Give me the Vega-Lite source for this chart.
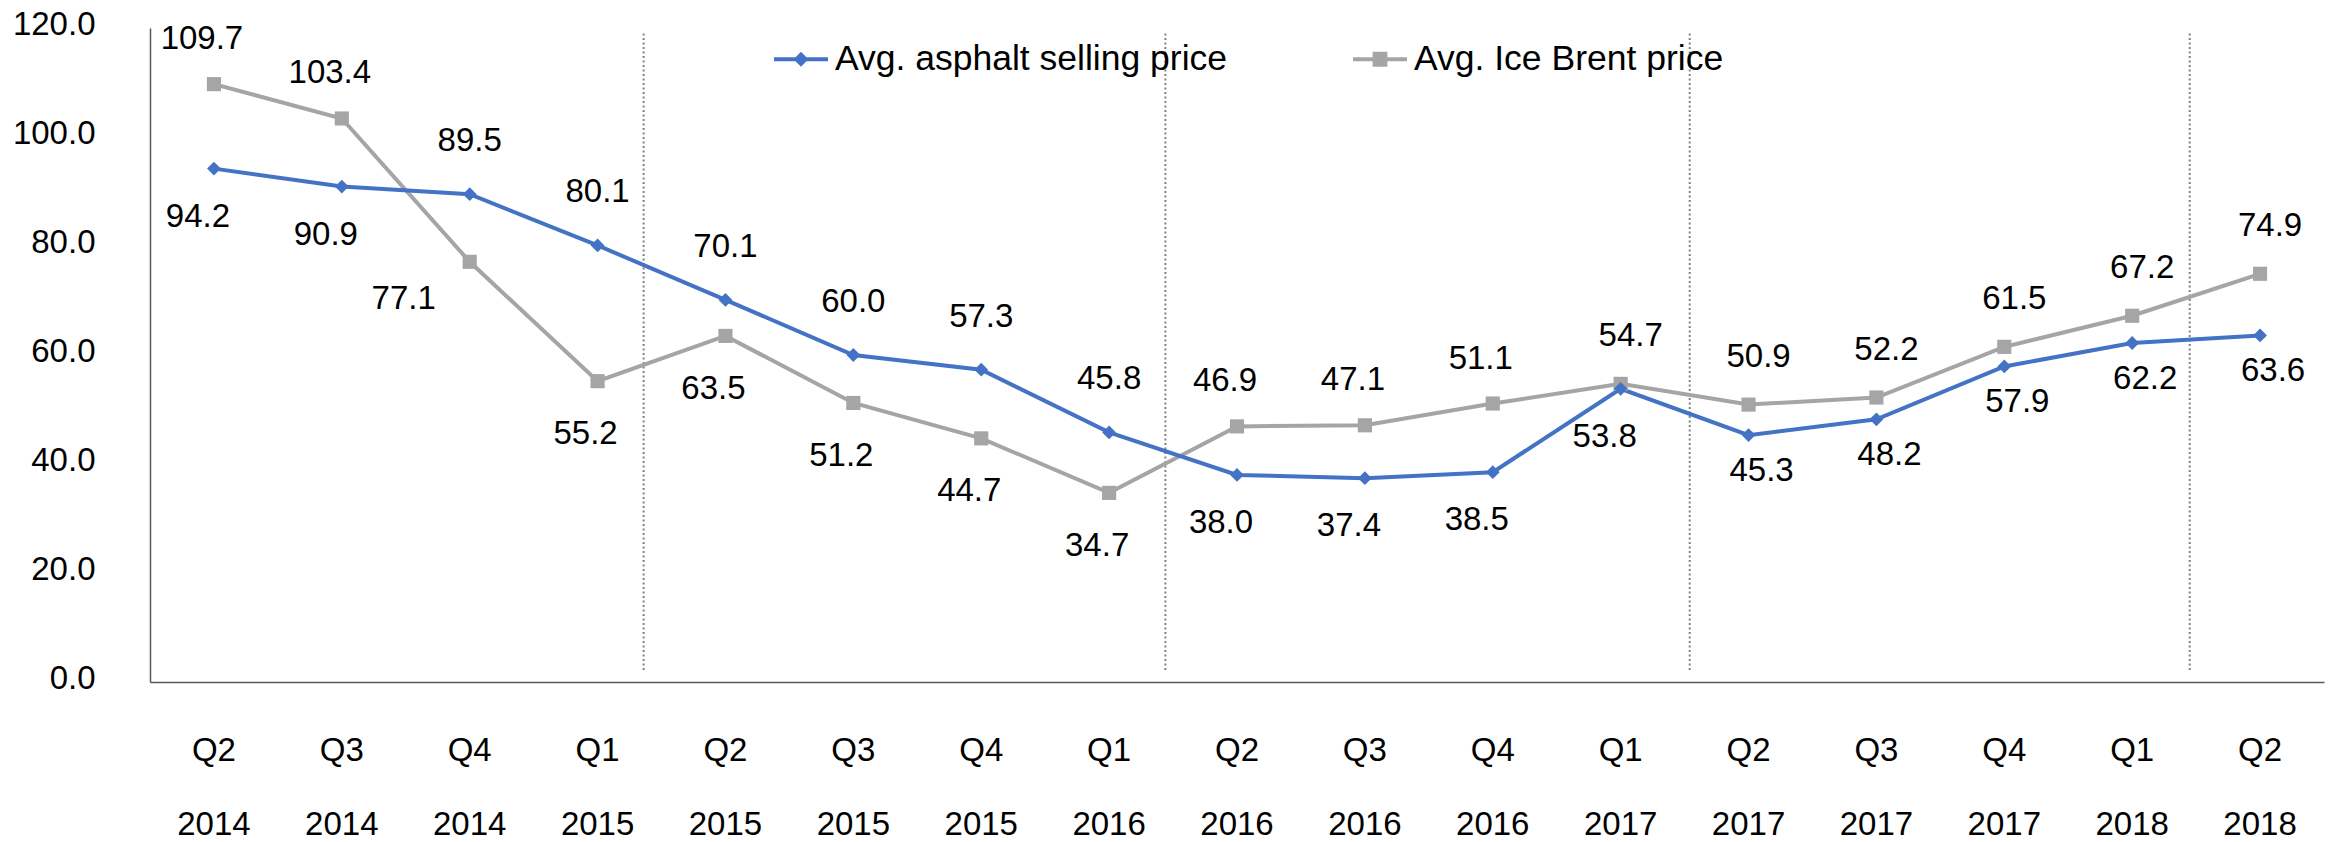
{
  "$schema": "https://vega.github.io/schema/vega-lite/v6.json",
  "width": 2174,
  "height": 654,
  "autosize": "none",
  "padding": {"left": 150, "top": 28, "right": 7, "bottom": 160},
  "background": "#ffffff",
  "config": {"view": {"stroke": null}, "axis": {"grid": false}, "font": "Liberation Sans"},
  "datasets": {
    "prices": [
      {"period": "Q2 2014", "series": "Avg. asphalt selling price", "value": 94.2},
      {"period": "Q3 2014", "series": "Avg. asphalt selling price", "value": 90.9},
      {"period": "Q4 2014", "series": "Avg. asphalt selling price", "value": 89.5},
      {"period": "Q1 2015", "series": "Avg. asphalt selling price", "value": 80.1},
      {"period": "Q2 2015", "series": "Avg. asphalt selling price", "value": 70.1},
      {"period": "Q3 2015", "series": "Avg. asphalt selling price", "value": 60.0},
      {"period": "Q4 2015", "series": "Avg. asphalt selling price", "value": 57.3},
      {"period": "Q1 2016", "series": "Avg. asphalt selling price", "value": 45.8},
      {"period": "Q2 2016", "series": "Avg. asphalt selling price", "value": 38.0},
      {"period": "Q3 2016", "series": "Avg. asphalt selling price", "value": 37.4},
      {"period": "Q4 2016", "series": "Avg. asphalt selling price", "value": 38.5},
      {"period": "Q1 2017", "series": "Avg. asphalt selling price", "value": 53.8},
      {"period": "Q2 2017", "series": "Avg. asphalt selling price", "value": 45.3},
      {"period": "Q3 2017", "series": "Avg. asphalt selling price", "value": 48.2},
      {"period": "Q4 2017", "series": "Avg. asphalt selling price", "value": 57.9},
      {"period": "Q1 2018", "series": "Avg. asphalt selling price", "value": 62.2},
      {"period": "Q2 2018", "series": "Avg. asphalt selling price", "value": 63.6},
      {"period": "Q2 2014", "series": "Avg. Ice Brent price", "value": 109.7},
      {"period": "Q3 2014", "series": "Avg. Ice Brent price", "value": 103.4},
      {"period": "Q4 2014", "series": "Avg. Ice Brent price", "value": 77.1},
      {"period": "Q1 2015", "series": "Avg. Ice Brent price", "value": 55.2},
      {"period": "Q2 2015", "series": "Avg. Ice Brent price", "value": 63.5},
      {"period": "Q3 2015", "series": "Avg. Ice Brent price", "value": 51.2},
      {"period": "Q4 2015", "series": "Avg. Ice Brent price", "value": 44.7},
      {"period": "Q1 2016", "series": "Avg. Ice Brent price", "value": 34.7},
      {"period": "Q2 2016", "series": "Avg. Ice Brent price", "value": 46.9},
      {"period": "Q3 2016", "series": "Avg. Ice Brent price", "value": 47.1},
      {"period": "Q4 2016", "series": "Avg. Ice Brent price", "value": 51.1},
      {"period": "Q1 2017", "series": "Avg. Ice Brent price", "value": 54.7},
      {"period": "Q2 2017", "series": "Avg. Ice Brent price", "value": 50.9},
      {"period": "Q3 2017", "series": "Avg. Ice Brent price", "value": 52.2},
      {"period": "Q4 2017", "series": "Avg. Ice Brent price", "value": 61.5},
      {"period": "Q1 2018", "series": "Avg. Ice Brent price", "value": 67.2},
      {"period": "Q2 2018", "series": "Avg. Ice Brent price", "value": 74.9}
    ]
  },
  "data": {"name": "prices"},
  "encoding": {
    "x": {
      "field": "period", "type": "nominal",
      "scale": {"type": "band", "paddingInner": 0, "paddingOuter": 0,
        "domain": ["Q2 2014","Q3 2014","Q4 2014","Q1 2015","Q2 2015","Q3 2015","Q4 2015","Q1 2016","Q2 2016","Q3 2016","Q4 2016","Q1 2017","Q2 2017","Q3 2017","Q4 2017","Q1 2018","Q2 2018"]},
      "axis": {"title": null, "labelExpr": "split(datum.label, ' ')", "labelFont": "Liberation Sans", "labelFontSize": 33, "labelColor": "#000000", "labelLineHeight": 74, "labelBaseline": "top", "labelPadding": 52, "ticks": false, "labelAngle": 0, "domainColor": "#595959", "domainWidth": 1.5}
    },
    "y": {
      "field": "value", "type": "quantitative",
      "scale": {"domain": [0, 120], "nice": false},
      "axis": {"title": null, "values": [0, 20, 40, 60, 80, 100, 120], "format": ".1f", "labelFont": "Liberation Sans", "labelFontSize": 33, "labelColor": "#000000", "ticks": false, "labelPadding": 55, "labelOffset": -3.5, "domainColor": "#595959", "domainWidth": 1.5}
    }
  },
  "layer": [
    {"transform": [{"filter": {"and": [{"field": "series", "equal": "Avg. asphalt selling price"}, {"field": "period", "equal": "Q1 2015"}]}}],
     "mark": {"type": "rule", "strokeDash": [2, 2.5], "strokeWidth": 2, "stroke": "#808080"},
     "encoding": {"x": {"field": "period", "type": "nominal", "bandPosition": 0.86}, "y": {"datum": 119}, "y2": {"datum": 2}}},
    {"transform": [{"filter": {"and": [{"field": "series", "equal": "Avg. asphalt selling price"}, {"field": "period", "equal": "Q1 2016"}]}}],
     "mark": {"type": "rule", "strokeDash": [2, 2.5], "strokeWidth": 2, "stroke": "#808080"},
     "encoding": {"x": {"field": "period", "type": "nominal", "bandPosition": 0.94}, "y": {"datum": 119}, "y2": {"datum": 2}}},
    {"transform": [{"filter": {"and": [{"field": "series", "equal": "Avg. asphalt selling price"}, {"field": "period", "equal": "Q1 2017"}]}}],
     "mark": {"type": "rule", "strokeDash": [2, 2.5], "strokeWidth": 2, "stroke": "#808080"},
     "encoding": {"x": {"field": "period", "type": "nominal", "bandPosition": 1.04}, "y": {"datum": 119}, "y2": {"datum": 2}}},
    {"transform": [{"filter": {"and": [{"field": "series", "equal": "Avg. asphalt selling price"}, {"field": "period", "equal": "Q1 2018"}]}}],
     "mark": {"type": "rule", "strokeDash": [2, 2.5], "strokeWidth": 2, "stroke": "#808080"},
     "encoding": {"x": {"field": "period", "type": "nominal", "bandPosition": 0.95}, "y": {"datum": 119}, "y2": {"datum": 2}}},
    {"transform": [{"filter": {"field": "series", "equal": "Avg. Ice Brent price"}}],
     "mark": {"type": "line", "color": "#A5A5A5", "strokeWidth": 4}},
    {"transform": [{"filter": {"field": "series", "equal": "Avg. asphalt selling price"}}],
     "mark": {"type": "line", "color": "#4472C4", "strokeWidth": 4}},
    {"transform": [{"filter": {"field": "series", "equal": "Avg. Ice Brent price"}}],
     "mark": {"type": "point", "shape": "square", "filled": true, "size": 200, "color": "#A5A5A5", "opacity": 1}},
    {"transform": [{"filter": {"field": "series", "equal": "Avg. asphalt selling price"}}],
     "mark": {"type": "point", "shape": "diamond", "filled": true, "size": 190, "color": "#4472C4", "opacity": 1}},
    {"mark": {"type": "point", "filled": true, "opacity": 0},
     "encoding": {
       "color": {"field": "series", "type": "nominal",
         "scale": {"domain": ["Avg. asphalt selling price", "Avg. Ice Brent price"], "range": ["#4472C4", "#A5A5A5"]},
         "legend": {"title": null, "orient": "none", "legendX": 622, "legendY": 2, "direction": "horizontal", "columnPadding": 117, "padding": 0,
           "labelFont": "Liberation Sans", "labelFontSize": 35.5, "labelColor": "#000000", "labelOffset": 5, "labelLimit": 0,
           "symbolSize": 2916, "symbolStrokeWidth": 4, "symbolOpacity": 1,
           "encode": {"symbols": {"update": {"stroke": {"scale": "color", "field": "value"}, "fill": {"scale": "color", "field": "value"}, "strokeWidth": {"value": 4}, "opacity": {"value": 1}}}}}},
       "shape": {"field": "series", "type": "nominal",
         "scale": {"domain": ["Avg. asphalt selling price", "Avg. Ice Brent price"], "range": ["M-1,0L1,0M0,-0.17L0.17,0L0,0.17L-0.17,0Z", "M-1,0L1,0M-0.2,-0.2L0.2,-0.2L0.2,0.2L-0.2,0.2Z"]},
         "legend": {"title": null, "orient": "none", "legendX": 622, "legendY": 2, "direction": "horizontal", "columnPadding": 117, "padding": 0,
           "labelFont": "Liberation Sans", "labelFontSize": 35.5, "labelColor": "#000000", "labelOffset": 5, "labelLimit": 0,
           "symbolSize": 2916, "symbolStrokeWidth": 4, "symbolOpacity": 1}}
     }},
    {"transform": [{"filter": {"and": [{"field": "series", "equal": "Avg. asphalt selling price"}, {"field": "period", "oneOf": ["Q4 2014","Q1 2015","Q2 2015","Q3 2015","Q4 2015","Q1 2016"]}]}}],
     "mark": {"type": "text", "font": "Liberation Sans", "fontSize": 33, "color": "#000000", "dy": -53, "dx": 0},
     "encoding": {"text": {"field": "value", "type": "quantitative", "format": ".1f"}}},
    {"transform": [{"filter": {"and": [{"field": "series", "equal": "Avg. asphalt selling price"}, {"field": "period", "oneOf": ["Q2 2014","Q3 2014","Q2 2016","Q3 2016","Q4 2016","Q1 2017"]}]}}],
     "mark": {"type": "text", "font": "Liberation Sans", "fontSize": 33, "color": "#000000", "dy": 48, "dx": -16},
     "encoding": {"text": {"field": "value", "type": "quantitative", "format": ".1f"}}},
    {"transform": [{"filter": {"and": [{"field": "series", "equal": "Avg. asphalt selling price"}, {"field": "period", "oneOf": ["Q2 2017","Q3 2017","Q4 2017","Q1 2018","Q2 2018"]}]}}],
     "mark": {"type": "text", "font": "Liberation Sans", "fontSize": 33, "color": "#000000", "dy": 36, "dx": 13},
     "encoding": {"text": {"field": "value", "type": "quantitative", "format": ".1f"}}},
    {"transform": [{"filter": {"and": [{"field": "series", "equal": "Avg. Ice Brent price"}, {"field": "period", "oneOf": ["Q2 2014","Q3 2014","Q2 2016","Q3 2016","Q4 2016"]}]}}],
     "mark": {"type": "text", "font": "Liberation Sans", "fontSize": 33, "color": "#000000", "dy": -45, "dx": -12},
     "encoding": {"text": {"field": "value", "type": "quantitative", "format": ".1f"}}},
    {"transform": [{"filter": {"and": [{"field": "series", "equal": "Avg. Ice Brent price"}, {"field": "period", "oneOf": ["Q1 2017","Q2 2017","Q3 2017","Q4 2017","Q1 2018","Q2 2018"]}]}}],
     "mark": {"type": "text", "font": "Liberation Sans", "fontSize": 33, "color": "#000000", "dy": -48, "dx": 10},
     "encoding": {"text": {"field": "value", "type": "quantitative", "format": ".1f"}}},
    {"transform": [{"filter": {"and": [{"field": "series", "equal": "Avg. Ice Brent price"}, {"field": "period", "oneOf": ["Q1 2015","Q2 2015","Q3 2015","Q4 2015","Q1 2016"]}]}}],
     "mark": {"type": "text", "font": "Liberation Sans", "fontSize": 33, "color": "#000000", "dy": 53, "dx": -12},
     "encoding": {"text": {"field": "value", "type": "quantitative", "format": ".1f"}}},
    {"transform": [{"filter": {"and": [{"field": "series", "equal": "Avg. Ice Brent price"}, {"field": "period", "equal": "Q4 2014"}]}}],
     "mark": {"type": "text", "font": "Liberation Sans", "fontSize": 33, "color": "#000000", "dy": 37, "dx": -66},
     "encoding": {"text": {"field": "value", "type": "quantitative", "format": ".1f"}}}
  ]
}
